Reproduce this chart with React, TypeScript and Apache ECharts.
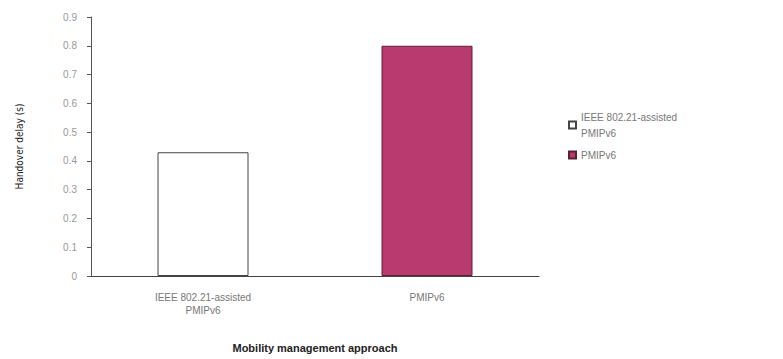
import React, { useEffect, useRef } from "react";
import * as echarts from "echarts";

const categories = ["IEEE 802.21-assisted\nPMIPv6", "PMIPv6"];
const seriesNames = ["IEEE 802.21-assisted\nPMIPv6", "PMIPv6"];
const ieeeValues = [0.43, null];
const pmipValues = [null, 0.8];
const yMin = 0;
const yMax = 0.9;
const yStep = 0.1;

export default function App() {
  const ref = useRef<HTMLDivElement>(null);
  useEffect(() => {
    if (!ref.current) return;
    const chart = echarts.init(ref.current, undefined, { renderer: "svg" });
    chart.setOption({
      animation: false,
      backgroundColor: "#ffffff",
      grid: { left: 91, right: 244, top: 17, bottom: 83 },
      legend: {
        orient: "vertical",
        left: 563,
        top: 104,
        itemWidth: 7,
        itemHeight: 7,
        itemGap: 6,
        icon: "rect",
        textStyle: { color: "#777", fontSize: 10, fontFamily: "Liberation Sans", lineHeight: 16 },
        data: seriesNames,
      },
      xAxis: {
        type: "category",
        data: categories,
        name: "Mobility management approach",
        nameLocation: "middle",
        nameGap: 66,
        nameTextStyle: { color: "#222", fontSize: 11, fontWeight: "bold", fontFamily: "Liberation Sans" },
        axisLine: { lineStyle: { color: "#444" } },
        axisTick: { show: false },
        axisLabel: { color: "#777", fontSize: 10, margin: 15, lineHeight: 13, fontFamily: "Liberation Sans" },
      },
      yAxis: {
        type: "value",
        min: yMin,
        max: yMax,
        interval: yStep,
        name: "Handover delay (s)",
        nameLocation: "middle",
        nameGap: 67,
        nameTextStyle: { color: "#222", fontSize: 10, fontFamily: "'DejaVu Sans Condensed', 'Liberation Sans'" },
        axisLine: { show: true, lineStyle: { color: "#555" } },
        axisTick: { show: true, length: 4, lineStyle: { color: "#555" } },
        splitLine: { show: false },
        axisLabel: {
          color: "#999",
          fontSize: 10,
          margin: 14,
          fontFamily: "Liberation Sans",
          formatter: (v: number) => (v === 0 ? "0" : v.toFixed(1)),
        },
      },
      series: [
        {
          name: seriesNames[0],
          type: "bar",
          stack: "all",
          barWidth: 91,
          data: ieeeValues,
          itemStyle: { color: "#ffffff", borderColor: "#444", borderWidth: 1 },
        },
        {
          name: seriesNames[1],
          type: "bar",
          stack: "all",
          barWidth: 91,
          data: pmipValues,
          itemStyle: { color: "#b83a6e", borderColor: "#5a2035", borderWidth: 1 },
        },
      ],
    });
    return () => chart.dispose();
  }, []);
  return <div ref={ref} style={{ width: 783, height: 359, position: "absolute", left: 0, top: 0 }} />;
}
